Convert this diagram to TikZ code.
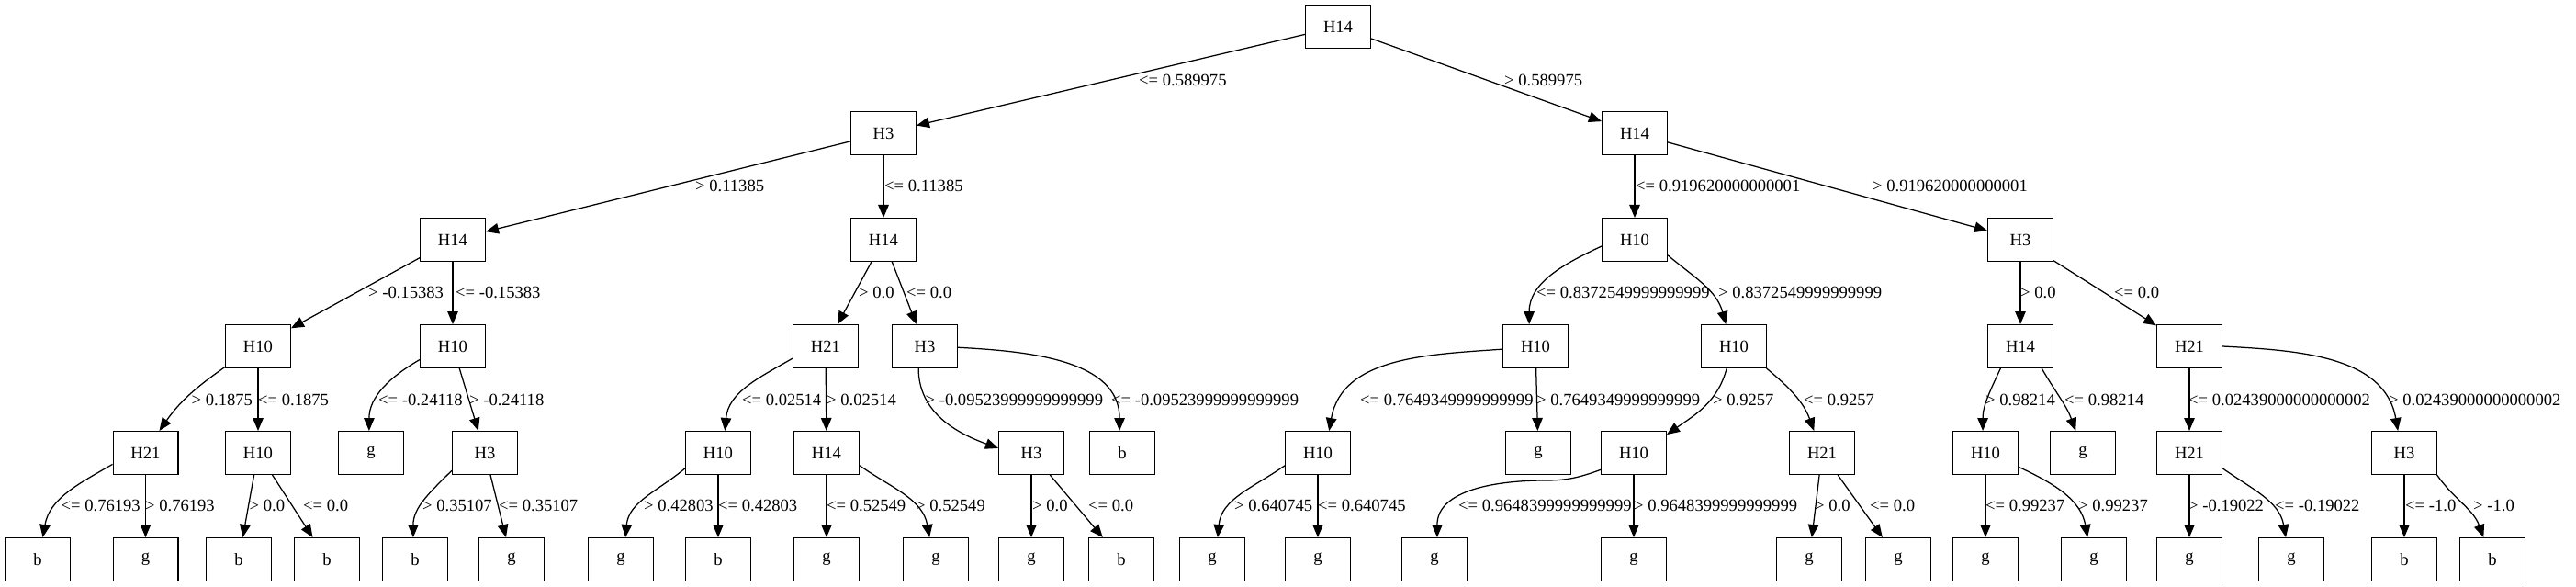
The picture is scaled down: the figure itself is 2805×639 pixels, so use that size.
\documentclass[tikz,border=0pt]{standalone}
\usepackage{fontspec}
\setmainfont{Liberation Serif}
\usetikzlibrary{arrows.meta}
\tikzset{
  box/.style={draw, line width=1.4pt, minimum width=70.6pt, minimum height=46.6pt, inner sep=0pt, font=\fontsize{18.6}{22}\selectfont},
  edge/.style={line width=1.25pt, -{Triangle[length=14pt,width=11.5pt]}},
  lbl/.style={anchor=west, inner sep=0pt, font=\fontsize{18.6}{22}\selectfont},
}
\begin{document}
\begin{tikzpicture}[x=1pt,y=1pt]
\fill[white] (0,0) rectangle (2805,-639);
\useasboundingbox (0,0) rectangle (2805,-639);
% level 0-1
\node[box] (r) at (1457,-29) {H14};
\node[box] (a) at (962,-145) {H3};
\node[box] (b) at (1780,-145) {H14};
% level 2
\node[box] (c1) at (493,-261) {H14};
\node[box] (c2) at (962,-261) {H14};
\node[box] (c3) at (1780,-261) {H10};
\node[box] (c4) at (2200,-261) {H3};
% level 3
\node[box] (d1) at (281,-377) {H10};
\node[box] (d2) at (493,-377) {H10};
\node[box] (d3) at (899,-377) {H21};
\node[box] (d4) at (1007,-377) {H3};
\node[box] (d5) at (1672,-377) {H10};
\node[box] (d6) at (1888,-377) {H10};
\node[box] (d7) at (2200,-377) {H14};
\node[box] (d8) at (2384,-377) {H21};
% level 4
\node[box] (e1) at (158.5,-493) {H21};
\node[box] (e2) at (281,-493) {H10};
\node[box] (e3) at (404,-493) {g};
\node[box] (e4) at (528,-493) {H3};
\node[box] (e5) at (782,-493) {H10};
\node[box] (e6) at (900,-493) {H14};
\node[box] (e7) at (1123,-493) {H3};
\node[box] (e8) at (1222,-493) {b};
\node[box] (e9) at (1435,-493) {H10};
\node[box] (e10) at (1675,-493) {g};
\node[box] (e11) at (1779,-493) {H10};
\node[box] (e12) at (1984,-493) {H21};
\node[box] (e13) at (2162,-493) {H10};
\node[box] (e14) at (2268,-493) {g};
\node[box] (e15) at (2384,-493) {H21};
\node[box] (e16) at (2618,-493) {H3};
% level 5
\node[box] (f1) at (41,-609) {b};
\node[box] (f2) at (158.5,-609) {g};
\node[box] (f3) at (260,-609) {b};
\node[box] (f4) at (356,-609) {b};
\node[box] (f5) at (452,-609) {b};
\node[box] (f6) at (557,-609) {g};
\node[box] (f7) at (676,-609) {g};
\node[box] (f8) at (782,-609) {b};
\node[box] (f9) at (900,-609) {g};
\node[box] (f10) at (1019,-609) {g};
\node[box] (f11) at (1123,-609) {g};
\node[box] (f12) at (1221,-609) {b};
\node[box] (f13) at (1320,-609) {g};
\node[box] (f14) at (1435,-609) {g};
\node[box] (f15) at (1562,-609) {g};
\node[box] (f16) at (1779,-609) {g};
\node[box] (f17) at (1970,-609) {g};
\node[box] (f18) at (2067,-609) {g};
\node[box] (f19) at (2162,-609) {g};
\node[box] (f20) at (2280,-609) {g};
\node[box] (f21) at (2384,-609) {g};
\node[box] (f22) at (2495,-609) {g};
\node[box] (f23) at (2618,-609) {b};
\node[box] (f24) at (2714,-609) {b};
\coordinate (w1) at (1683,-523);

% edges level 0-1
\draw[edge] (r) -- (a);
\draw[edge] (r) -- (b);
% level 1-2
\draw[edge] (a) -- (c1);
\draw[edge] (a) -- (c2);
\draw[edge] (b) -- (c3);
\draw[edge] (b) -- (c4);
% level 2-3
\draw[edge] (c1) -- (d1);
\draw[edge] (c1) -- (d2);
\draw[edge] (c2) -- (d3);
\draw[edge] (c2) -- (d4);
\draw[edge] (c3.-169) to[out=-155,in=90] (d5.106);
\draw[edge] (c3.-25) to[out=-40,in=105] (d6.110);
\draw[edge] (c4) -- (d7);
\draw[edge] (c4) -- (d8);
% level 3-4
\draw[edge] (d1.-148) to[out=-145,in=55] (e1.58);
\draw[edge] (d1) -- (e2);
\draw[edge] (d2.-158) to[out=-150,in=90] (e3.95);
\draw[edge] (d2) -- (e4);
\draw[edge] (d3.-160) to[out=-150,in=85] (e5.73);
\draw[edge] (d3) -- (e6);
\draw[edge] (d4.-106) to[out=-90,in=160] (e7.172);
\draw[edge] (d4.-2) to[out=-3,in=90] (e8.97);
\draw[edge] (d5.-175) to[out=-176,in=80] (e9.63);
\draw[edge] (d5) -- (e10);
\draw[edge] (d6.-108) to[out=-105,in=35] (e11.29);
\draw[edge] (d6.-34) to[out=-40,in=110] (e12.110);
\draw[edge] (d7.-132) to[out=-115,in=90] (e13.97);
\draw[edge] (d7.-46) to[out=-60,in=110] (e14.108);
\draw[edge] (d8) -- (e15);
\draw[edge] (d8.0) to[out=-3,in=100] (e16.106);
% level 4-5
\draw[edge] (e1.-161) to[out=-150,in=80] (f1.77);
\draw[edge] (e1) -- (f2);
\draw[edge] (e2) -- (f3);
\draw[edge] (e2) -- (f4);
\draw[edge] (e4.-152) to[out=-135,in=90] (f5.95);
\draw[edge] (e4) -- (f6);
\draw[edge] (e5.-155) to[out=-140,in=85] (f7.78);
\draw[edge] (e5) -- (f8);
\draw[edge] (e6) -- (f9);
\draw[edge] (e6.-21) to[out=-35,in=100] (f10.106);
\draw[edge] (e7) -- (f11);
\draw[edge] (e7) -- (f12);
\draw[edge] (e9.-159) to[out=-145,in=85] (f13.76);
\draw[edge] (e9) -- (f14);
\draw[edge] (e11.-153) to[out=-160,in=0] (w1) to[out=180,in=90] (f15.83);
\draw[edge] (e11) -- (f16);
\draw[edge] (e12) -- (f17);
\draw[edge] (e12) -- (f18);
\draw[edge] (e13) -- (f19);
\draw[edge] (e13.-23) to[out=-25,in=100] (f20.106);
\draw[edge] (e15) -- (f21);
\draw[edge] (e15.-25) to[out=-35,in=100] (f22.104);
\draw[edge] (e16) -- (f23);
\draw[edge] (e16.-34) to[out=-55,in=110] (f24.112);

% labels
\node[lbl] (l01) at (1240,-87) {<= 0.589975};
\node[lbl] (l02) at (1638,-87) {> 0.589975};
\node[lbl] (l11) at (757,-202) {> 0.11385};
\node[lbl] (l12) at (963,-202) {<= 0.11385};
\node[lbl] (l13) at (1781,-202) {<= 0.919620000000001};
\node[lbl] (l14) at (2039,-202) {> 0.919620000000001};
\node[lbl] (l21) at (401,-318) {> -0.15383};
\node[lbl] (l22) at (496,-318) {<= -0.15383};
\node[lbl] (l23) at (935,-318) {> 0.0};
\node[lbl] (l24) at (987,-318) {<= 0.0};
\node[lbl] (l25) at (1673,-318) {<= 0.8372549999999999};
\node[lbl] (l26) at (1871,-318) {> 0.8372549999999999};
\node[lbl] (l27) at (2200,-318) {> 0.0};
\node[lbl] (l28) at (2302,-318) {<= 0.0};
\node[lbl] (l31) at (208.5,-435) {> 0.1875};
\node[lbl] (l32) at (281,-435) {<= 0.1875};
\node[lbl] (l33) at (412,-435) {<= -0.24118};
\node[lbl] (l34) at (511,-435) {> -0.24118};
\node[lbl] (l35) at (808,-435) {<= 0.02514};
\node[lbl] (l36) at (900,-435) {> 0.02514};
\node[lbl] (l37) at (1007.5,-435) {> -0.09523999999999999};
\node[lbl] (l38) at (1210,-435) {<= -0.09523999999999999};
\node[lbl] (l39) at (1481,-435) {<= 0.7649349999999999};
\node[lbl] (l3a) at (1673,-435) {> 0.7649349999999999};
\node[lbl] (l3b) at (1865,-435) {> 0.9257};
\node[lbl] (l3c) at (1964,-435) {<= 0.9257};
\node[lbl] (l3d) at (2162,-435) {> 0.98214};
\node[lbl] (l3e) at (2248,-435) {<= 0.98214};
\node[lbl] (l3f) at (2383,-435) {<= 0.02439000000000002};
\node[lbl] (l3g) at (2601,-435) {> 0.02439000000000002};
\node[lbl] (l41) at (66.5,-550) {<= 0.76193};
\node[lbl] (l42) at (158,-550) {> 0.76193};
\node[lbl] (l43) at (271.5,-550) {> 0.0};
\node[lbl] (l44) at (330,-550) {<= 0.0};
\node[lbl] (l45) at (460,-550) {> 0.35107};
\node[lbl] (l46) at (543,-550) {<= 0.35107};
\node[lbl] (l47) at (701,-550) {> 0.42803};
\node[lbl] (l48) at (782,-550) {<= 0.42803};
\node[lbl] (l49) at (900,-550) {<= 0.52549};
\node[lbl] (l4a) at (997,-550) {> 0.52549};
\node[lbl] (l4b) at (1124,-550) {> 0.0};
\node[lbl] (l4c) at (1185,-550) {<= 0.0};
\node[lbl] (l4d) at (1344,-550) {> 0.640745};
\node[lbl] (l4e) at (1435,-550) {<= 0.640745};
\node[lbl] (l4f) at (1588,-550) {<= 0.9648399999999999};
\node[lbl] (l4g) at (1779,-550) {> 0.9648399999999999};
\node[lbl] (l4h) at (1976,-550) {> 0.0};
\node[lbl] (l4i) at (2036,-550) {<= 0.0};
\node[lbl] (l4j) at (2162,-550) {<= 0.99237};
\node[lbl] (l4k) at (2263,-550) {> 0.99237};
\node[lbl] (l4l) at (2383,-550) {> -0.19022};
\node[lbl] (l4m) at (2477,-550) {<= -0.19022};
\node[lbl] (l4n) at (2619,-550) {<= -1.0};
\node[lbl] (l4o) at (2693,-550) {> -1.0};
\end{tikzpicture}
\end{document}
